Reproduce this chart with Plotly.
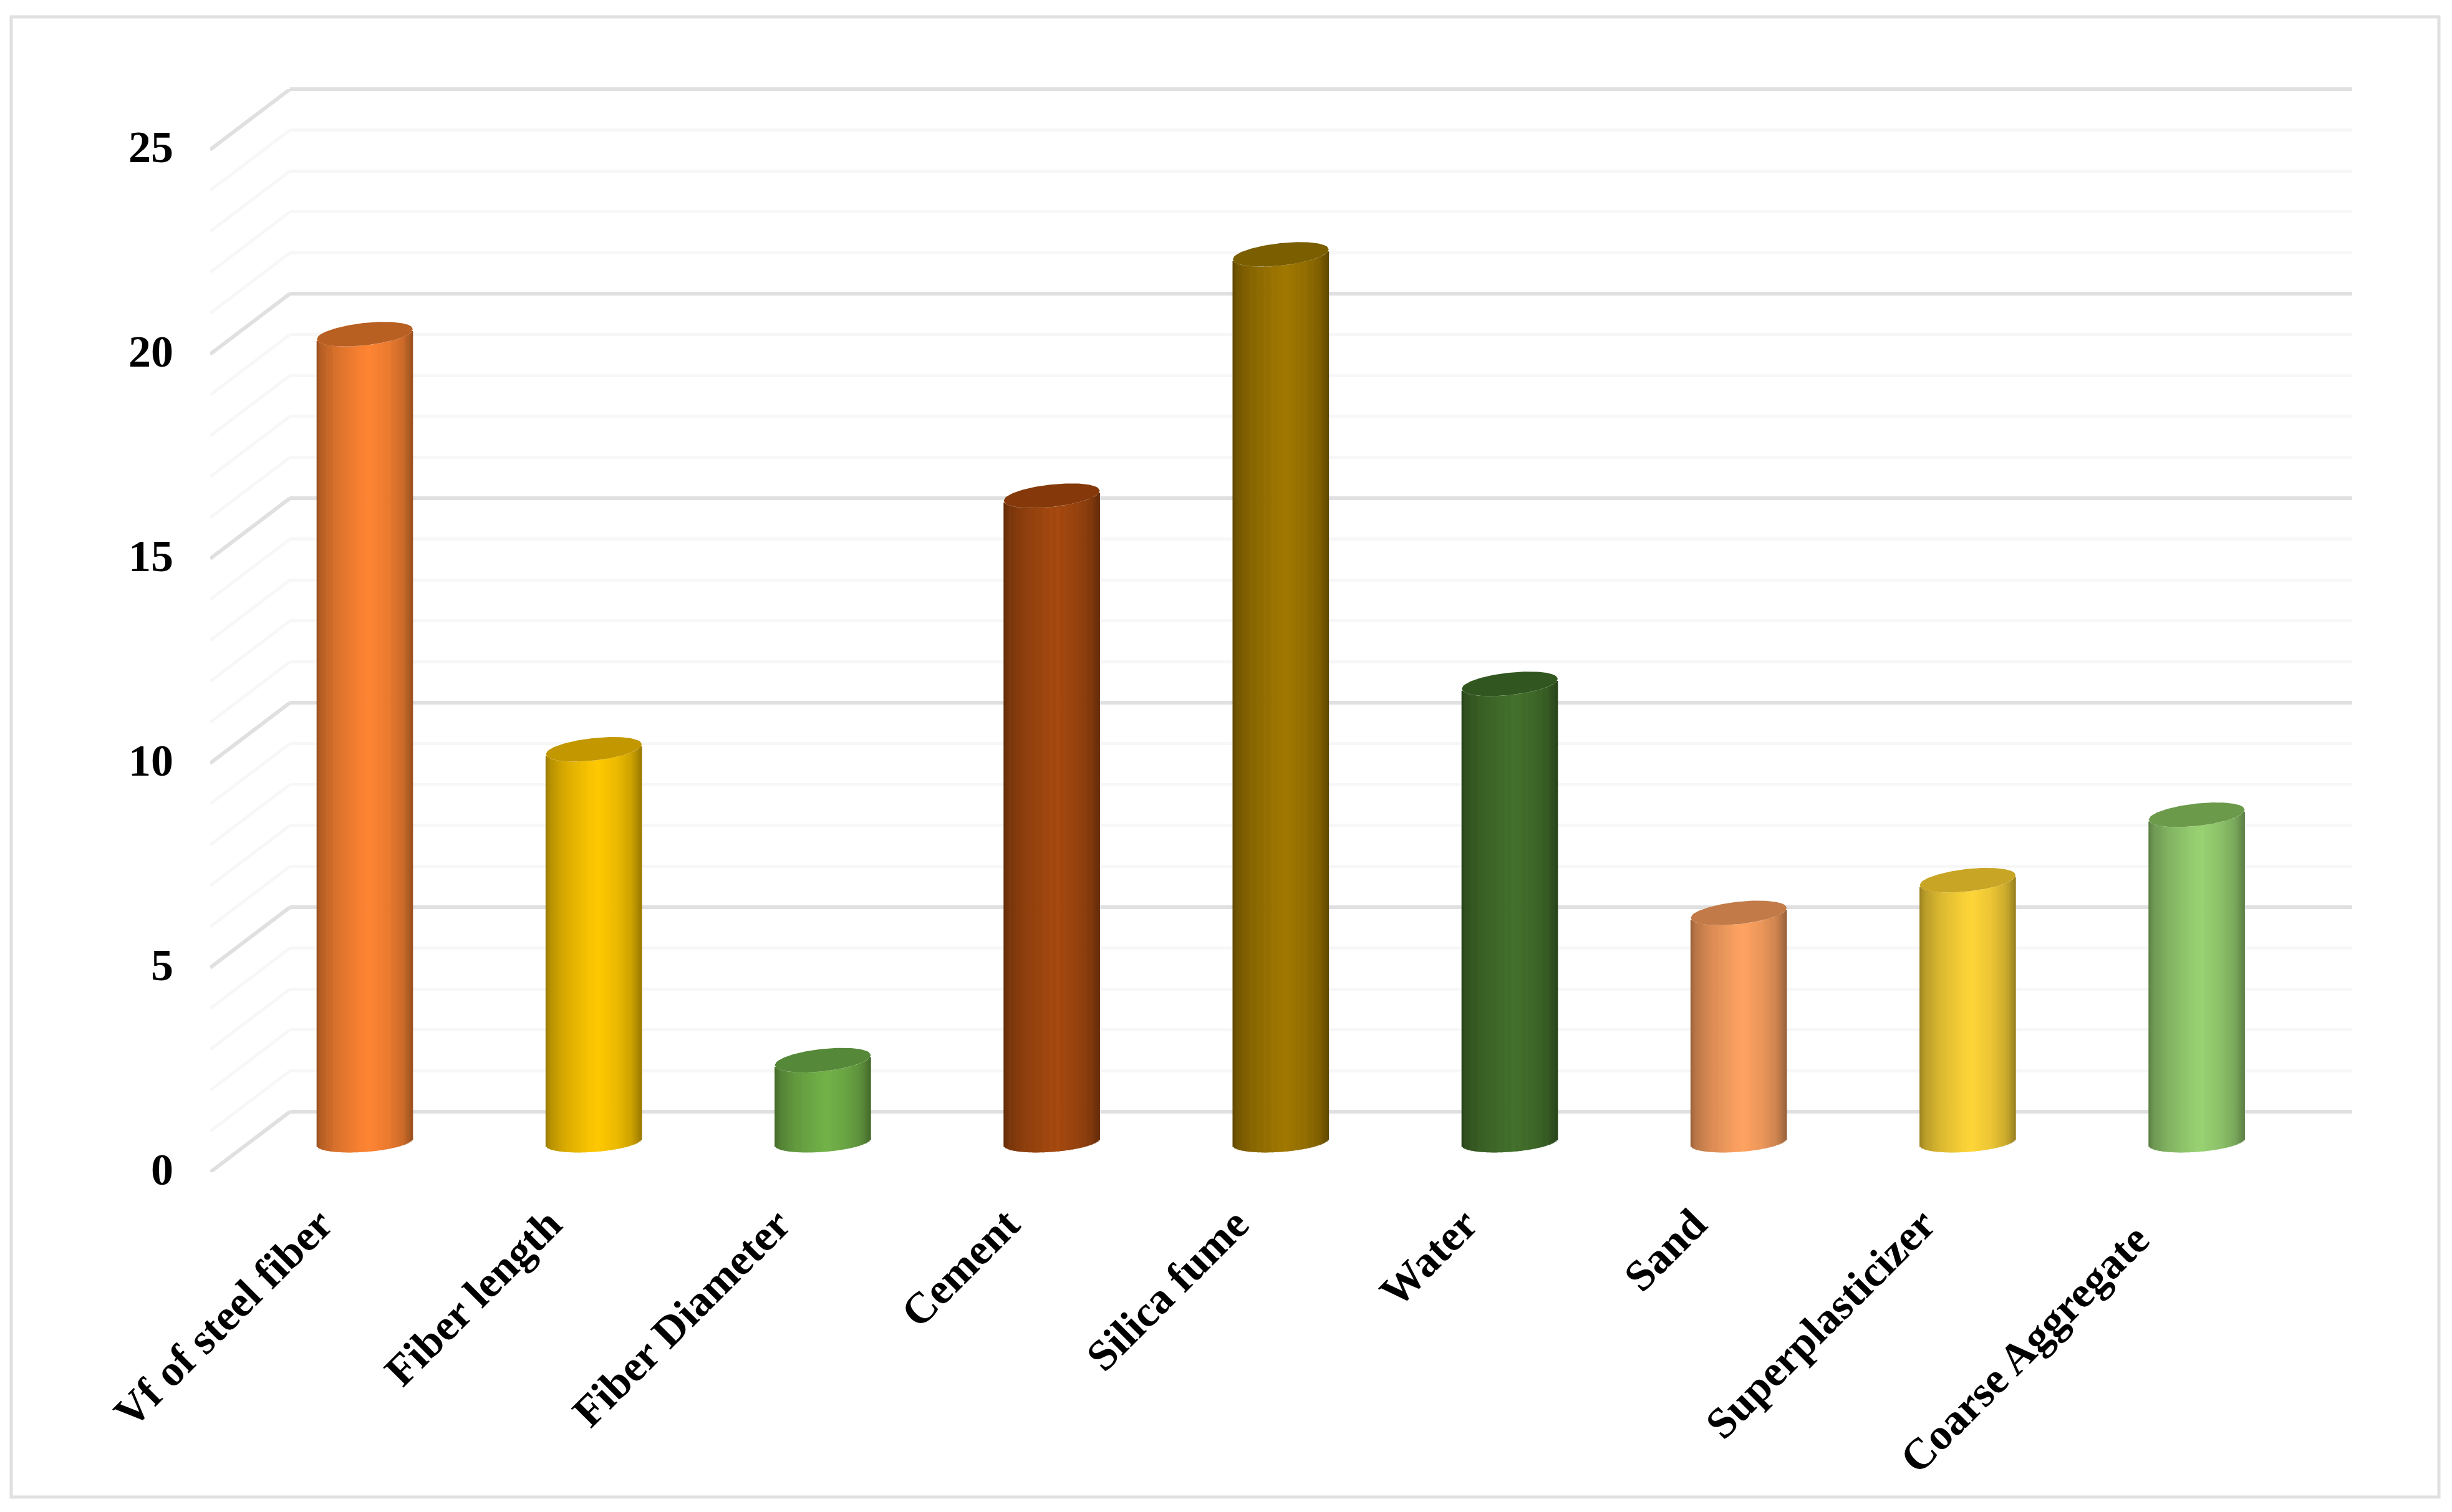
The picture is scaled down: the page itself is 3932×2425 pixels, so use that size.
import numpy as np
import plotly.graph_objects as go

W = 3932
H = 2425

categories = ["Vf of steel fiber", "Fiber length", "Fiber Diameter", "Cement", "Silica fume",
              "Water", "Sand", "Superplasticizer", "Coarse Aggregate"]
values = [19.75, 9.6, 2.0, 15.8, 21.7, 11.2, 5.6, 6.4, 8.0]
y_ticks = [0, 5, 10, 15, 20, 25]
side_colors = ["#FF8533", "#FFC900", "#72B248", "#A5490F", "#A07800", "#43702B", "#FFA362", "#FFD638", "#98D272"]
cap_colors = ["#B85F22", "#C29700", "#558838", "#85390A", "#7A5E00", "#32561F", "#C27A48", "#C8A525", "#6B9A4B"]

# shading across the cylinder, left edge to right edge
shade_t = [-1, -0.9, -0.6, -0.1, 0.1, 0.5, 0.8, 1]
shade_f = [0.6, 0.72, 0.85, 0.97, 1, 0.92, 0.8, 0.6]

# pixel layout of the fake 3d box
px_per_unit = 65.6
px_per_cat = 367.2
front_left = 337
back_left = 465
right = 3772
y_front0 = 1880
y_back0 = 1783
y_top = 143
first_center = 585
depth_x = (back_left - front_left) / px_per_cat
depth_y = (y_front0 - y_back0) / px_per_unit
floor_mid = depth_y / 2
half_w = 77 / px_per_cat
n_strips = 70
wall_pad = 0.5  # plotly drops gridlines sitting on the axis ends


def shade(color, f):
    r, g, b = int(color[1:3], 16), int(color[3:5], 16), int(color[5:7], 16)
    return f"rgb({int(r * f)},{int(g * f)},{int(b * f)})"


x_left = (front_left - first_center) / px_per_cat
x_right = (right - first_center) / px_per_cat
y_max = (y_front0 - y_top) / px_per_unit

fig = go.Figure()

# empty trace so that plotly draws the back wall subplot
fig.add_trace(go.Scatter(x=[0, 1], y=[0, 25], mode="lines", line=dict(width=0),
                         hoverinfo="skip", showlegend=False, xaxis="x", yaxis="y"))

# diagonal lines on the side wall
for v in range(0, 26):
    major = v % 5 == 0
    fig.add_trace(go.Scatter(
        x=[x_left, x_left + depth_x], y=[v, v + depth_y], mode="lines",
        line=dict(color="#E0E0E0" if major else "#F7F7F7", width=6 if major else 5),
        hoverinfo="skip", showlegend=False, xaxis="x2", yaxis="y2",
    ))

t = np.linspace(-1, 1, n_strips + 1)
t = (t[:-1] + t[1:]) / 2
arc = np.sqrt(1 - t ** 2)
f = np.interp(t, shade_t, shade_f)

for i, v in enumerate(values):
    bottom = floor_mid + (5.5 * t - 16 * arc) / px_per_unit
    top = floor_mid + v + (8 * t - 18 * arc) / px_per_unit
    fig.add_trace(go.Bar(
        x=i + t * half_w, y=top - bottom, base=bottom,
        width=2.6 * half_w / n_strips,
        marker=dict(color=[shade(side_colors[i], s) for s in f], line_width=0),
        hoverinfo="skip", showlegend=False, xaxis="x2", yaxis="y2",
    ))
    # top of the cylinder
    tt = np.linspace(-1, 1, 60)
    upper = floor_mid + v + (8 * tt + 18 * np.sqrt(1 - tt ** 2)) / px_per_unit
    lower = floor_mid + v + (8 * tt - 18 * np.sqrt(1 - tt ** 2)) / px_per_unit
    fig.add_trace(go.Scatter(
        x=np.r_[i + tt * half_w, i + tt[::-1] * half_w], y=np.r_[upper, lower[::-1]],
        mode="lines", fill="toself", fillcolor=cap_colors[i], line=dict(width=0),
        hoverinfo="skip", showlegend=False, xaxis="x2", yaxis="y2",
    ))

y_font = dict(family="Liberation Serif", size=72, color="black", weight="bold")
x_font = dict(family="Liberation Serif", size=70, color="black", weight="bold")

# the longest label sits a bit further down its own slant in the original
x_labels = [c + "\u00a0\u00a0" if c == "Coarse Aggregate" else c for c in categories]

fig.update_layout(
    width=W, height=H, margin=dict(l=0, r=0, t=0, b=0),
    paper_bgcolor="white", plot_bgcolor="rgba(0,0,0,0)",
    barmode="overlay", showlegend=False,
    # back wall, has to be the first subplot so the bars sit above its grid
    xaxis=dict(domain=[back_left / W, right / W], range=[0, 1], showgrid=False, zeroline=False,
               showticklabels=False, ticks="", anchor="y", automargin=False),
    yaxis=dict(
        domain=[1 - (y_back0 + wall_pad * px_per_unit) / H, 1 - (y_top - wall_pad * px_per_unit) / H],
        range=[-wall_pad, 25 + wall_pad], anchor="x", automargin=False,
        tick0=0, dtick=5, showgrid=True, gridcolor="#E0E0E0", gridwidth=6, zeroline=False,
        showticklabels=False, showline=False, ticks="",
        minor=dict(tick0=0, dtick=1, showgrid=True, gridcolor="#F7F7F7", gridwidth=5),
    ),
    xaxis2=dict(
        domain=[front_left / W, right / W], range=[x_left, x_right], anchor="y2", automargin=False,
        tickmode="array", tickvals=[i - 0.197 for i in range(len(categories))], ticktext=x_labels,
        tickangle=-45, tickfont=x_font, showgrid=False, zeroline=False, showline=False, ticks="",
        ticklabelstandoff=27,
    ),
    yaxis2=dict(
        domain=[1 - y_front0 / H, 1 - y_top / H], range=[0, y_max], anchor="x2", automargin=False,
        tickmode="array", tickvals=y_ticks, tickfont=y_font, showgrid=False, zeroline=False,
        showline=False, ticks="", ticklabelstandoff=58, ticklabelshift=-5,
    ),
    shapes=[dict(type="rect", xref="paper", yref="paper",
                 x0=18 / W, x1=3911 / W, y0=1 - 2401 / H, y1=1 - 27 / H,
                 line=dict(color="#E0E0E0", width=5), layer="below")],
)

fig.write_html("out.html", config=dict(displayModeBar=False),
               post_script="document.body.style.margin='0';")
